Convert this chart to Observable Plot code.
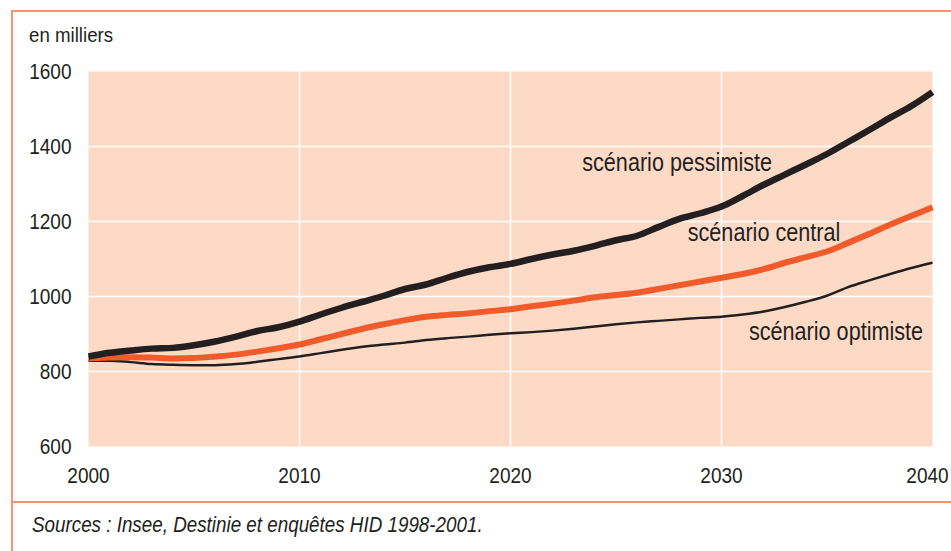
<!DOCTYPE html>
<html>
<head>
<meta charset="utf-8">
<script src="https://cdn.jsdelivr.net/npm/d3@7"></script>
<script src="https://cdn.jsdelivr.net/npm/@observablehq/plot@0.6"></script>
<style>
  html, body { margin: 0; padding: 0; background: #fff; }
  #wrap { position: relative; width: 951px; height: 551px; overflow: hidden;
          font-family: 'Liberation Sans', Arial, sans-serif; color: #231f20; }
  #frame { position: absolute; left: 11px; top: 10px; width: 960px; height: 560px;
           border-top: 2px solid #f7946e; border-left: 2px solid #f7946e; box-sizing: border-box; }
  #sep { position: absolute; left: 11px; top: 501px; width: 960px; height: 0; border-top: 2px solid #f7946e; }
  .narrow { display: inline-block; transform: scaleX(0.87); transform-origin: 0 50%; }
  #unit { position: absolute; left: 29px; top: 24px; font-size: 21px; line-height: 21px; white-space: nowrap; }
  #src { position: absolute; left: 32px; top: 514px; font-size: 22px; line-height: 22px; font-style: italic; white-space: nowrap; }
  #src .narrow { transform: scaleX(0.855); }
  #unit .narrow { transform: scaleX(0.89); }
  #chart { position: absolute; left: 0; top: 0; }
</style>
</head>
<body>
<div id="wrap">
  <div id="frame"></div>
  <div id="sep"></div>
  <div id="unit"><span class="narrow">en milliers</span></div>
  <div id="chart"></div>
  <div id="src"><span class="narrow">Sources : Insee, Destinie et enquêtes HID 1998-2001.</span></div>
</div>
<script>
// ---- data (en milliers) ----
const years = [2000,2001,2002,2003,2004,2005,2006,2007,2008,2009,2010,2011,2012,2013,2014,2015,2016,2017,2018,2019,2020,2021,2022,2023,2024,2025,2026,2027,2028,2029,2030,2031,2032,2033,2034,2035,2036,2037,2038,2039,2040];
const pessimiste = [840,850,856,861,863,870,880,893,908,918,933,952,970,986,1002,1020,1032,1050,1066,1078,1087,1100,1112,1122,1135,1150,1162,1185,1207,1222,1240,1268,1298,1325,1352,1380,1412,1444,1477,1508,1545];
const central    = [835,837,838,837,835,836,840,845,853,862,872,886,900,914,926,937,946,951,955,961,966,974,981,989,998,1004,1010,1020,1030,1040,1050,1060,1073,1090,1105,1120,1143,1167,1192,1215,1238];
const optimiste  = [829,829,825,820,818,817,817,820,826,833,840,849,858,866,872,877,884,889,893,898,902,905,909,914,920,926,931,935,939,943,946,952,960,972,986,1002,1025,1043,1060,1076,1090];

const scenarios = ["scénario pessimiste", "scénario central", "scénario optimiste"];
const labelYear  = [2023.4, 2028.4, 2031.3];
const labelValue = [1336, 1147, 885];

const xTicks = [2000, 2010, 2020, 2030, 2040];
const yTicks = [600, 800, 1000, 1200, 1400, 1600];
const xGrid = [2010, 2020, 2030];
const yGrid = [800, 1000, 1200, 1400];

// ---- tables ----
const series = [pessimiste, central, optimiste];
const rows = scenarios.flatMap((s, k) => years.map((y, i) => ({scenario: s, year: y, value: series[k][i]})));
const labels = scenarios.map((s, k) => ({text: s, year: labelYear[k], value: labelValue[k]}));

const ink = "#231f20";
const orange = "#f15a2b";
const font = "'Liberation Sans', Arial, sans-serif";
const fmt = d => String(d);

const chart = Plot.plot({
  width: 951,
  height: 500,
  marginLeft: 88,
  marginRight: 19,
  marginTop: 71,
  marginBottom: 54,
  style: {fontFamily: font, fontSize: "22px", color: ink, background: "transparent"},
  x: {domain: [2000, 2040]},
  y: {domain: [600, 1600]},
  marks: [
    Plot.frame({fill: "#fddac6", stroke: null}),
    Plot.gridX(xGrid, {stroke: "#fff", strokeOpacity: 1, strokeWidth: 1.5}),
    Plot.gridY(yGrid, {stroke: "#fff", strokeOpacity: 1, strokeWidth: 1.5}),
    Plot.axisY({ticks: yTicks, tickSize: 0, tickPadding: 17, label: null, tickFormat: fmt, fontSize: 22, fill: ink}),
    Plot.axisX({ticks: xTicks.slice(0, 4), tickSize: 0, tickPadding: 21, label: null, tickFormat: fmt, fontSize: 22, fill: ink}),
    Plot.axisX({ticks: xTicks.slice(4), tickSize: 0, tickPadding: 21, label: null, tickFormat: fmt, fontSize: 22, fill: ink, dx: -5}),
    Plot.line(rows.filter(d => d.scenario === scenarios[2]), {x: "year", y: "value", stroke: ink, strokeWidth: 2.5, curve: "monotone-x", strokeLinecap: "butt"}),
    Plot.line(rows.filter(d => d.scenario === scenarios[1]), {x: "year", y: "value", stroke: orange, strokeWidth: 6, curve: "monotone-x", strokeLinecap: "butt"}),
    Plot.line(rows.filter(d => d.scenario === scenarios[0]), {x: "year", y: "value", stroke: ink, strokeWidth: 6.5, curve: "monotone-x", strokeLinecap: "butt"}),
    Plot.text(labels, {x: "year", y: "value", text: "text", textAnchor: "start", lineAnchor: "bottom", fontSize: 25, fill: ink})
  ]
});

// condense text horizontally (the original uses a narrow sans face)
chart.querySelectorAll("text").forEach(t => {
  const tr = t.getAttribute("transform");
  if (tr) t.setAttribute("transform", tr + " scale(0.865,1)");
  else {
    const x = +t.getAttribute("x") || 0;
    t.setAttribute("transform", `translate(${x},0) scale(0.865,1) translate(${-x},0)`);
  }
});
document.getElementById("chart").appendChild(chart);
</script>
</body>
</html>
